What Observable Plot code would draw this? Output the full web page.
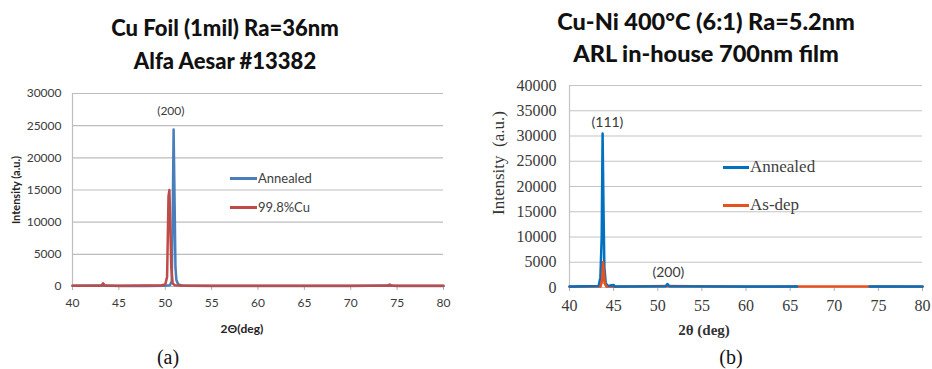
<!DOCTYPE html>
<html>
<head>
<meta charset="utf-8">
<script src="https://cdn.jsdelivr.net/npm/d3@7"></script>
<script src="https://cdn.jsdelivr.net/npm/@observablehq/plot@0.6"></script>
<style>
  html, body { margin: 0; padding: 0; background: #fff; }
  #wrap { position: relative; width: 932px; height: 369px; overflow: hidden; background: #fff; }
  .abs { position: absolute; white-space: nowrap; }
</style>
</head>
<body>
<div id="wrap"></div>
<script>
// ---------- Panel (a) data: Cu Foil ----------
const aAnnealedX = [40, 43.3, 45, 48, 49.9, 50.5, 50.7, 50.8, 50.9, 51.0, 51.1, 51.2, 51.4, 52, 55, 60, 65, 70, 74.2, 75, 80];
const aAnnealedY = [100, 150, 80, 80, 100, 200, 800, 10000, 24400, 14000, 3000, 1000, 300, 100, 80, 80, 80, 80, 150, 80, 80];
const aCuX = [40, 43.1, 43.3, 43.5, 45, 47.7, 49.5, 50.0, 50.2, 50.35, 50.45, 50.55, 50.65, 50.8, 51.0, 51.5, 52, 55, 60, 70, 74.0, 74.2, 74.4, 80];
const aCuY = [100, 100, 500, 100, 100, 150, 150, 300, 1500, 14000, 15000, 9000, 3000, 500, 200, 150, 100, 100, 100, 100, 100, 300, 100, 100];
const aXTicks = [40, 45, 50, 55, 60, 65, 70, 75, 80];
const aYTicks = [0, 5000, 10000, 15000, 20000, 25000, 30000];
const aLabels = ["(200)"];
const aLabelX = [50.6];
const aLabelY = [27300];

// ---------- Panel (b) data: Cu-Ni film ----------
const bAnnealedX = [40, 43.3, 43.5, 43.65, 43.75, 43.85, 43.95, 44.1, 44.3, 45, 45.1, 50.9, 51.1, 51.3, 60, 65.8, NaN, 74, 80];
const bAnnealedY = [200, 300, 2000, 10000, 30500, 16000, 4000, 1000, 300, 500, 200, 250, 700, 250, 200, 200, NaN, 200, 200];
const bAsDepX = [40, 43.5, 43.7, 43.8, 43.9, 44.0, 44.2, 45, 51.1, 60, 66, 74, 80];
const bAsDepY = [150, 200, 1500, 5000, 3000, 800, 200, 150, 300, 150, 200, 200, 150];
const bXTicks = [40, 45, 50, 55, 60, 65, 70, 75, 80];
const bYTicks = [0, 5000, 10000, 15000, 20000, 25000, 30000, 35000, 40000];
const bLabels = ["(111)", "(200)"];
const bLabelX = [44.3, 51.2];
const bLabelY = [32600, 2900];

const zip = (xs, ys) => xs.map((x, i) => ({x, y: ys[i]}));
const lab = (ts, xs, ys) => ts.map((t, i) => ({t, x: xs[i], y: ys[i]}));

const wrap = document.getElementById("wrap");
function place(node, left, top) {
  node.style.position = "absolute"; node.style.left = left + "px"; node.style.top = top + "px";
  wrap.appendChild(node);
}
function text(str, css) {
  const d = document.createElement("div");
  d.className = "abs";
  d.textContent = str;
  Object.assign(d.style, css);
  wrap.appendChild(d);
  return d;
}
const SANS = "Lato, 'Open Sans', sans-serif";
const SERIF = "'Liberation Serif', 'DejaVu Serif', serif";

function axes(xt, yt, font, size, xpad, ypad, fill) {
  return [
    Plot.axisX(xt, {tickFormat: d => String(d), tickSize: 4, tickPadding: xpad, stroke: "#b0b0b0", fill, fontFamily: font, fontSize: size, label: null}),
    Plot.axisY(yt, {tickFormat: d => String(d), tickSize: 0, tickPadding: ypad, fill, fontFamily: font, fontSize: size, label: null})
  ];
}

// ---------- Panel (a) ----------
const blueA = "#4a7ebb", redA = "#be4b48";
const plotA = Plot.plot({
  width: 466, height: 250,
  marginLeft: 72, marginRight: 23, marginTop: 13, marginBottom: 44,
  style: {background: "transparent", overflow: "visible"},
  x: {domain: [40, 80]},
  y: {domain: [0, 30000]},
  marks: [
    ...axes(aXTicks, aYTicks, "Lato", 12, 8, 11, "#3a3a3a"),
    Plot.ruleY(aYTicks, {stroke: "#bdbdbd", strokeWidth: 1.2}),
    Plot.ruleX([40], {y1: 0, y2: 30000, stroke: "#bdbdbd", strokeWidth: 1.2}),
    Plot.line(zip(aAnnealedX, aAnnealedY), {x: "x", y: "y", stroke: blueA, strokeWidth: 2.5}),
    Plot.line(zip(aCuX, aCuY), {x: "x", y: "y", stroke: redA, strokeWidth: 2.5}),
    Plot.text(lab(aLabels, aLabelX, aLabelY), {x: "x", y: "y", text: "t", fill: "#3a3a3a", fontFamily: "Lato", fontSize: 12})
  ]
});
place(plotA, 0, 80);

// ---------- Panel (b) ----------
const blueB = "#0070c0", redB = "#e8501e";
const plotB = Plot.plot({
  width: 466, height: 260,
  marginLeft: 103, marginRight: 10, marginTop: 15, marginBottom: 43,
  style: {background: "transparent", overflow: "visible"},
  x: {domain: [40, 80]},
  y: {domain: [0, 40000]},
  marks: [
    ...axes(bXTicks, bYTicks, "Liberation Serif", 16, 8, 13, "#3a3a3a"),
    Plot.ruleY(bYTicks, {stroke: "#c4c4c4", strokeWidth: 1.2}),
    Plot.ruleX([40], {y1: 0, y2: 40000, stroke: "#c4c4c4", strokeWidth: 1.2}),
    Plot.line(zip(bAsDepX, bAsDepY), {x: "x", y: "y", stroke: redB, strokeWidth: 2.5}),
    Plot.line(zip(bAnnealedX, bAnnealedY), {x: "x", y: "y", stroke: blueB, strokeWidth: 2.5}),
    Plot.line(zip(bAsDepX, bAsDepY).filter(d => d.x >= 43.5 && d.x <= 44.2), {x: "x", y: "y", stroke: redB, strokeWidth: 2.5}),
    Plot.text(lab(bLabels, bLabelX, bLabelY), {x: "x", y: "y", text: "t", fill: "#3a3a3a", fontFamily: "Lato", fontSize: 14})
  ]
});
place(plotB, 466, 70);

// ---------- Titles ----------
const tcss = {fontFamily: SANS, fontWeight: "900", color: "#111", textAlign: "center"};
text("Cu Foil (1mil) Ra=36nm", Object.assign({left: "0px", width: "450px", top: "14px", fontSize: "22px"}, tcss));
text("Alfa Aesar #13382", Object.assign({left: "0px", width: "450px", top: "47px", fontSize: "22px"}, tcss));
text("Cu-Ni 400°C (6:1) Ra=5.2nm", Object.assign({left: "466px", width: "480px", top: "7px", fontSize: "23.5px"}, tcss));
text("ARL in-house 700nm film", Object.assign({left: "466px", width: "480px", top: "39px", fontSize: "23.5px"}, tcss));

// ---------- Axis titles ----------
text("Intensity (a.u.)", {left: "15px", top: "190px", fontSize: "11px", fontWeight: "bold", fontFamily: SANS, color: "#222", transform: "translate(-50%,-50%) rotate(-90deg)"});
text("2Θ(deg)", {left: "242px", top: "328px", fontSize: "12px", fontWeight: "bold", fontFamily: SANS, color: "#222", transform: "translate(-50%,-50%)"});
text("Intensity  (a.u.)", {left: "499px", top: "163px", fontSize: "17px", fontFamily: SERIF, color: "#333", whiteSpace: "pre", transform: "translate(-50%,-50%) rotate(-90deg)"});
text("2θ (deg)", {left: "704px", top: "330px", fontSize: "15px", fontWeight: "bold", fontFamily: SERIF, color: "#333", transform: "translate(-50%,-50%)"});

// ---------- Panel letters ----------
text("(a)", {left: "168px", top: "357px", fontSize: "20px", fontFamily: SERIF, color: "#111", transform: "translate(-50%,-50%)"});
text("(b)", {left: "731px", top: "357px", fontSize: "20px", fontFamily: SERIF, color: "#111", transform: "translate(-50%,-50%)"});

// ---------- Legends ----------
function legend(x1, x2, y, color, label, css) {
  const l = document.createElement("div");
  Object.assign(l.style, {position: "absolute", left: x1 + "px", top: (y - 1.5) + "px", width: (x2 - x1) + "px", height: "3px", background: color});
  wrap.appendChild(l);
  text(label, Object.assign({left: (x2 + 1) + "px", top: y + "px", transform: "translateY(-50%)"}, css));
}
const legA = {fontSize: "13px", fontFamily: SANS, color: "#404040"};
legend(230, 257, 178, blueA, "Annealed", legA);
legend(230, 257, 207, redA, "99.8%Cu", legA);
const legB = {fontSize: "17px", fontFamily: SERIF, color: "#404040"};
legend(723, 749, 167, blueB, "Annealed", legB);
legend(723, 749, 205, redB, "As-dep", legB);
</script>
</body>
</html>
